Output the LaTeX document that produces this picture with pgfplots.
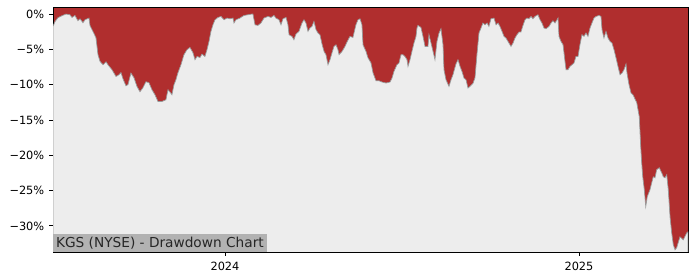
\documentclass[border=0pt]{standalone}
\usepackage{pgfplots}
\pgfplotsset{compat=1.18}
\usetikzlibrary{calc}
\usepackage{fontspec}
\setmainfont{DejaVu Sans}
\definecolor{ddred}{RGB}{176,46,46}
\definecolor{ddgray}{RGB}{237,237,237}
\definecolor{lblgray}{RGB}{178,178,178}
\begin{document}
\begin{tikzpicture}
\begin{axis}[
  name=ax,
  scale only axis,
  width=457.2bp, height=176.4bp,
  xmin=-177.8, xmax=478.7,
  ymin=-33.7, ymax=1.0,
  axis background/.style={fill=ddred},
  axis line style={black, line width=0.65pt},
  xtick={0,366}, xticklabels={2024,2025},
  ytick={-30,-25,-20,-15,-10,-5,0},
  yticklabels={−30\%,−25\%,−20\%,−15\%,−10\%,−5\%,0\%},
  tick style={black, line width=0.6pt},
  major tick length=2.8pt,
  tick align=outside,
  xtick pos=bottom, ytick pos=left,
  ticklabel style={font=\fontsize{8.2}{10}\selectfont},
  xticklabel style={yshift=-1pt},
  clip=true,
]
\addplot[fill=ddgray, draw=gray!80, line width=0.5pt] coordinates {
(-177.8,-40)
(-177.8,-1.76) (-175.8,-1.09) (-172.7,-0.52) (-168.5,-0.24) (-164.4,0) (-160.3,-0.10)
(-158.2,-0.48) (-155.1,-0.20) (-152.0,-0.95) (-149.9,-0.67) (-146.8,-1.23) (-144.7,-0.81)
(-140.6,-0.57) (-139.6,-1.61) (-136.5,-2.46) (-133.4,-3.36) (-131.3,-5.76) (-129.2,-6.71)
(-126.1,-7.18) (-123.0,-6.76) (-121.0,-7.18) (-116.8,-7.89) (-112.7,-8.84) (-109.6,-8.60)
(-107.5,-8.31) (-105.5,-9.16) (-102.4,-10.16) (-100.3,-10.01) (-97.2,-8.36) (-94.1,-9.02)
(-91.0,-10.25) (-87.9,-11.01) (-84.8,-10.44) (-81.7,-9.59) (-78.6,-9.73) (-75.5,-10.72)
(-72.4,-11.43) (-69.3,-12.38) (-65.1,-12.38) (-61.0,-12.14) (-58.9,-10.72) (-56.9,-11.05)
(-54.8,-11.43) (-52.7,-10.01) (-50.7,-9.31) (-48.6,-8.31) (-45.5,-7.18) (-42.4,-5.76)
(-39.3,-5.06) (-36.2,-4.73) (-33.1,-5.48) (-31.0,-6.47) (-28.9,-6.01) (-25.8,-6.15)
(-23.8,-5.67) (-20.7,-6.01) (-18.6,-5.06) (-16.5,-3.88) (-14.5,-2.46) (-12.4,-1.52)
(-10.3,-0.81) (-7.2,-0.48) (-4.1,-0.34) (-1.0,-0.81) (2.1,-0.57) (5.2,-0.67)
(8.3,-0.57) (9.3,-1.27) (11.4,-0.81) (15.5,-0.57) (19.6,-0.20) (23.8,-0.10)
(27.9,0) (28.9,0) (31.0,-1.52) (34.1,-1.61) (37.2,-1.27) (40.3,-0.57)
(44.5,-0.34) (47.6,-0.48) (50.7,-0.20) (52.7,-0.57) (55.8,-0.81) (57.9,-1.52)
(60.0,-0.67) (63.1,-0.48) (65.1,-1.52) (66.2,-2.93) (69.3,-3.17) (71.3,-3.64)
(73.4,-2.83) (76.5,-2.46) (79.6,-1.27) (81.7,-0.81) (83.7,-1.27) (85.8,-2.46)
(87.9,-1.98) (89.9,-1.76) (92.0,-1.05) (94.1,-2.22) (96.2,-2.69) (98.2,-2.93)
(100.3,-4.25) (102.4,-5.30) (104.4,-5.76) (106.5,-7.18) (108.6,-6.47) (110.6,-5.52)
(112.7,-4.59) (114.8,-4.35) (116.8,-5.06) (117.9,-5.76) (121.0,-5.30) (124.1,-4.59)
(126.1,-3.97) (129.2,-3.17) (132.3,-3.31) (135.4,-1.52) (137.5,-0.81) (139.6,-0.67)
(141.6,-1.52) (142.7,-4.35) (145.8,-5.30) (147.8,-6.19) (150.9,-6.90) (153.0,-8.31)
(156.1,-9.45) (159.2,-9.45) (162.3,-9.63) (166.5,-9.77) (170.6,-9.63) (172.7,-9.07)
(174.7,-8.13) (177.8,-7.18) (179.9,-6.94) (182.0,-5.76) (184.0,-5.76) (186.1,-6.01)
(188.2,-6.47) (189.2,-7.42) (191.3,-6.47) (193.3,-5.30) (195.4,-4.11) (197.5,-3.17)
(198.5,-1.98) (199.5,-1.61) (202.6,-1.90) (204.7,-3.17) (206.8,-4.59) (209.9,-4.59)
(210.9,-2.93) (213.0,-4.11) (215.1,-5.30) (217.1,-6.47) (219.2,-3.88) (221.3,-2.69)
(223.3,-2.08) (225.4,-4.35) (226.4,-7.89) (228.5,-9.31) (231.6,-10.25) (233.7,-9.31)
(235.7,-8.60) (238.8,-7.08) (240.9,-6.47) (243.0,-7.42) (245.0,-8.13) (247.1,-9.07)
(249.2,-9.31) (251.2,-10.48) (253.3,-10.25) (256.4,-9.82) (258.5,-9.02) (260.5,-5.76)
(262.6,-2.69) (264.7,-1.98) (266.7,-1.27) (268.8,-1.52) (270.9,-1.27) (272.9,-1.76)
(275.0,-0.67) (278.1,-0.57) (280.2,-1.52) (282.3,-1.27) (284.3,-1.76) (286.4,-2.46)
(288.5,-3.17) (290.5,-3.40) (292.6,-3.88) (295.7,-4.59) (297.8,-4.11) (299.8,-3.40)
(301.9,-2.93) (304.0,-2.55) (306.0,-2.55) (308.1,-1.61) (310.2,-0.81) (312.2,-0.57)
(314.3,-0.67) (316.4,-0.34) (318.4,-0.67) (320.5,-0.34) (323.6,-0.10) (325.7,-0.81)
(327.7,-1.27) (329.8,-1.98) (331.9,-2.08) (335.0,-1.76) (337.1,-1.27) (339.1,-0.95)
(341.2,-1.27) (343.3,-0.81) (344.3,-0.57) (345.3,-3.17) (347.4,-3.88) (349.5,-4.35)
(351.5,-6.71) (352.6,-7.89) (354.6,-7.89) (356.7,-7.42) (358.8,-7.18) (360.8,-6.94)
(362.9,-6.01) (365.0,-6.01) (367.0,-4.35) (369.1,-2.93) (371.2,-3.17) (373.2,-2.69)
(375.3,-3.17) (377.4,-1.98) (379.4,-1.27) (381.5,-0.57) (383.6,-0.34) (386.7,-0.20)
(388.7,-0.34) (389.8,-2.22) (391.8,-3.40) (393.9,-2.46) (396.0,-3.40) (398.1,-3.88)
(400.1,-4.11) (402.2,-5.06) (404.3,-6.23) (406.3,-7.42) (408.4,-8.60) (410.5,-8.36)
(412.5,-7.89) (414.6,-7.08) (415.6,-8.36) (417.7,-10.01) (419.8,-11.19) (421.8,-11.43)
(425.7,-12.56) (428.3,-14.55) (429.1,-16.81) (429.8,-18.80) (430.8,-21.06) (431.9,-23.05)
(433.5,-24.88) (435.0,-27.29) (436.6,-25.87) (439.4,-24.88) (441.2,-23.90) (442.8,-23.05)
(444.6,-23.19) (446.3,-22.05) (449.0,-21.77) (451.5,-22.48) (453.2,-23.05) (454.9,-23.19)
(456.7,-22.76) (458.3,-24.88) (460.1,-28.71) (461.8,-30.98) (463.5,-32.68) (465.3,-33.39)
(467.0,-33.10) (470.4,-31.55) (473.8,-31.98) (477.4,-30.98) (478.7,-30.84)
(478.7,-40)
} -- cycle;
\node[anchor=south west, fill=lblgray, inner xsep=2.2bp, inner ysep=2.2bp, outer sep=0pt,
  font=\fontsize{9.9}{11}\selectfont, text=black!85]
  at (rel axis cs:0,0) {KGS (NYSE) - Drawdown Chart};
\end{axis}
\pgfresetboundingbox
\path ($(ax.south west)+(-38.16bp,-20.16bp)$) rectangle ($(ax.north east)+(8.64bp,5.04bp)$);
\end{tikzpicture}
\end{document}
